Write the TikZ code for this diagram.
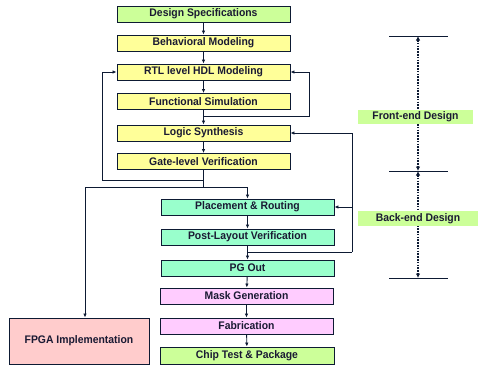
\documentclass[tikz,border=0pt]{standalone}
\usepackage{fontspec}
\setmainfont[FakeStretch=0.945]{Liberation Sans}
\usetikzlibrary{arrows.meta}
\definecolor{ln}{HTML}{0D1A33}
\definecolor{txt}{HTML}{1A1A33}
\definecolor{yel}{HTML}{FFFF99}
\definecolor{lgr}{HTML}{CCFF99}
\definecolor{mnt}{HTML}{99FFCC}
\definecolor{pnk}{HTML}{FFCCFF}
\definecolor{ros}{HTML}{FFCCCC}
\tikzset{
  box/.style={draw=ln, line width=0.9pt, minimum width=173pt, minimum height=16pt, inner sep=0pt,
    text=txt, font=\fontsize{11}{12}\selectfont\bfseries},
  lab/.style={minimum height=15pt, inner sep=0pt, text=txt, fill=lgr, font=\fontsize{11}{12}\selectfont\bfseries},
  con/.style={draw=ln, line width=0.9pt},
  arr/.style={con, -{Latex[length=4pt,width=3.5pt]}},
  dbl/.style={draw=ln, line width=1.5pt, dash pattern=on 1.6pt off 1.2pt,
    {Latex[length=4.5pt,width=4.5pt]}-{Latex[length=4.5pt,width=4.5pt]}},
  tick/.style={draw=ln, line width=0.9pt}
}
\begin{document}
\begin{tikzpicture}[x=1pt,y=-1pt]
\useasboundingbox (0,0) rectangle (484,375);
% front-end boxes
\node[box, fill=lgr] (ds) at (203.5,14) {Design Specifications};
\node[box, fill=yel] (bm) at (203.5,43) {Behavioral Modeling};
\node[box, fill=yel] (rtl) at (203.5,72) {RTL level HDL Modeling};
\node[box, fill=yel] (fs) at (203.5,101.5) {Functional Simulation};
\node[box, fill=yel] (ls) at (203.5,133) {Logic Synthesis};
\node[box, fill=yel] (gv) at (203.5,161.5) {Gate-level Verification};
% back-end boxes
\node[box, fill=mnt] (pr) at (247.5,207) {Placement \& Routing};
\node[box, fill=mnt] (pl) at (247.5,237) {Post-Layout Verification};
\node[box, fill=mnt] (pg) at (247.5,268) {PG Out};
\node[box, fill=pnk] (mg) at (246.5,296) {Mask Generation};
\node[box, fill=pnk] (fab) at (246.5,326) {Fabrication};
\node[box, fill=lgr, minimum width=174pt, minimum height=17pt] (ct) at (247,355.5) {Chip Test \& Package};
\node[box, fill=ros, minimum width=140pt, minimum height=46pt] (fpga) at (79,341) {FPGA Implementation};
% coordinates
\coordinate (j1) at (203.5,180);
\coordinate (l1) at (102,180);
\coordinate (j2) at (203.5,187);
\coordinate (fl) at (85,187);
\coordinate (j3) at (203.5,116);
\coordinate (r1) at (309,116);
\coordinate (rb) at (352,252);
\coordinate (j4) at (247.5,252);
% straight arrows
\draw[arr] (ds) -- (bm);
\draw[arr] (bm) -- (rtl);
\draw[arr] (rtl) -- (fs);
\draw[arr] (fs) -- (ls);
\draw[arr] (ls) -- (gv);
\draw[arr] (pr) -- (pl);
\draw[arr] (pl) -- (pg);
\draw[arr] (pg) -- (mg);
\draw[arr] (mg) -- (fab);
\draw[arr] (fab) -- (ct);
% loops
\draw[arr] (gv.south) -- (j1) -- (l1) |- (rtl.west);
\draw[con] (j1) -- (j2);
\draw[arr] (j2) -| (pr.north);
\draw[arr] (j2) -- (fl) -- (fl |- fpga.north);
\draw[arr] (j3) -- (r1) |- (rtl.east);
\draw[con] (pl.south) -- (j4) -- (rb);
\draw[arr] (rb) |- (ls.east);
\draw[arr] (rb |- pr.east) -- (pr.east);
% right-side scale
\coordinate (t1a) at (389,36);  \coordinate (t1b) at (448,36);
\coordinate (t2a) at (389,171); \coordinate (t2b) at (448,171);
\coordinate (t3a) at (389,278); \coordinate (t3b) at (448,278);
\coordinate (a1) at (418,36); \coordinate (a2) at (418,171); \coordinate (a3) at (418,278);
\draw[tick] (t1a) -- (t1b);
\draw[tick] (t2a) -- (t2b);
\draw[tick] (t3a) -- (t3b);
\draw[dbl] (a1) -- (a2);
\draw[dbl] (a2) -- (a3);
\node[lab, minimum width=115pt, minimum height=14pt] (fe) at (415.5,117) {Front-end Design};
\node[lab, minimum width=120pt] (be) at (418,218.5) {Back-end Design};
\end{tikzpicture}
\end{document}
